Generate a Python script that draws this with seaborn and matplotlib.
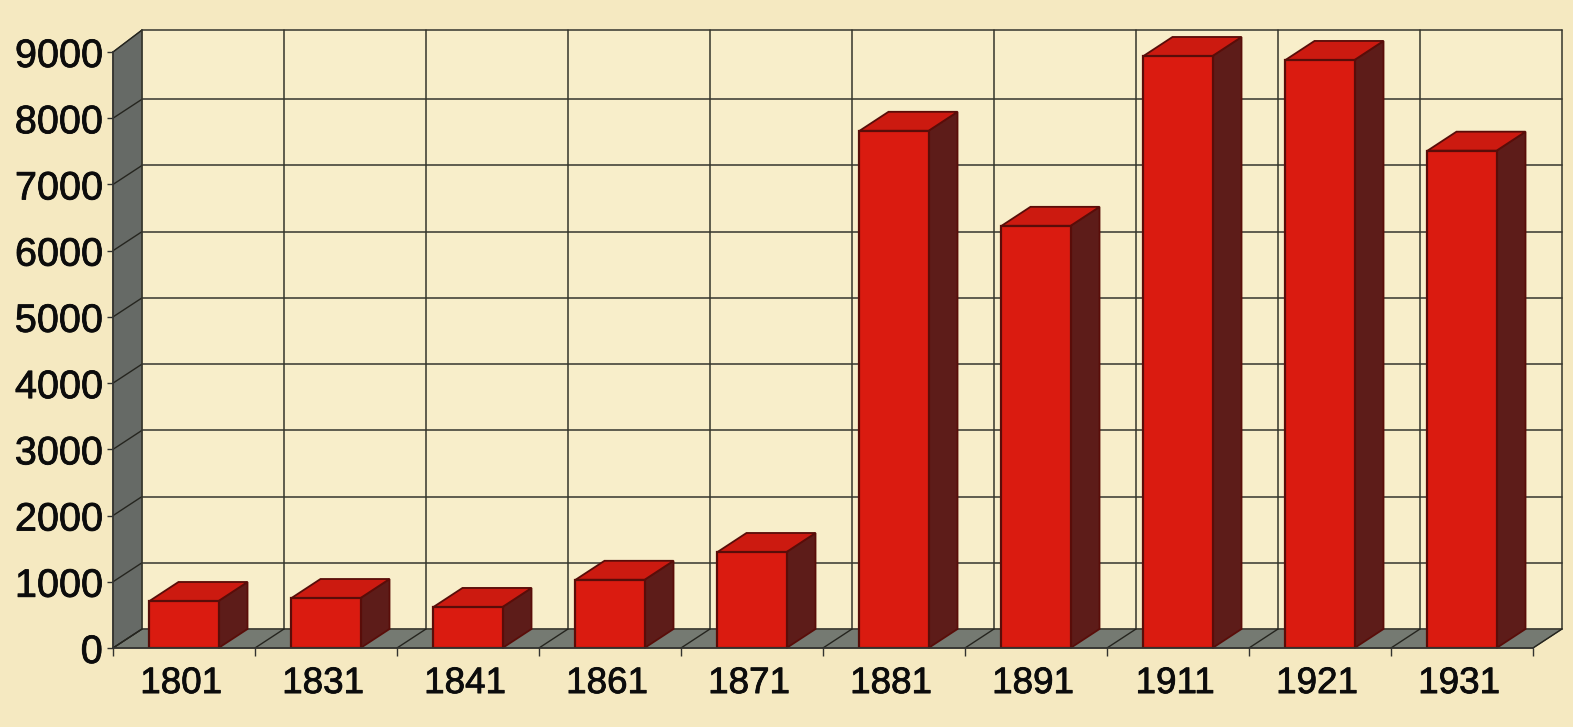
import matplotlib
matplotlib.use("Agg")
import matplotlib.pyplot as plt
import matplotlib.patheffects as pe
from matplotlib.patches import Polygon
from matplotlib.transforms import ScaledTranslation
import pandas as pd
import seaborn as sns

years = ["1801", "1831", "1841", "1861", "1871", "1881", "1891", "1911", "1921", "1931"]
values = [710, 755, 620, 1030, 1450, 7810, 6375, 8940, 8880, 7510]
y_ticks = [0, 1000, 2000, 3000, 4000, 5000, 6000, 7000, 8000, 9000]

PAPER = "#f5e9c1"
BACK = "#f8eeca"
GRID = "#45443a"
WALL = "#666a66"
FLOOR = "#757a72"
FRONT = "#da1b10"
SIDE = "#5d1c19"
TOP = "#cc1a10"
EDGE = "#590d09"

W, H = 1573, 727
# 3d offset of the back wall, in data units
DX = 29 / 142
DY = 19 / 596 * 9000
# the frame's top line sits a little above the regular grid spacing
TOP_Y = 9000 + DY + 45

sns.set_theme(style="white")
plt.rcParams["font.family"] = ["Liberation Sans", "DejaVu Sans"]

fig = plt.figure(figsize=(W / 100, H / 100), dpi=100, facecolor=PAPER)
ax = fig.add_axes([113 / W, (H - 648) / H, 1420 / W, 596 / H])
ax.set_facecolor("none")

df = pd.DataFrame({"year": years, "value": values})
sns.barplot(data=df, x="year", y="value", color=FRONT, saturation=1, width=0.486,
            edgecolor=EDGE, linewidth=1.6, zorder=5, ax=ax)

ax.set_xlim(-0.5, len(years) - 0.5)
ax.set_ylim(0, 9000)
x0, x1 = ax.get_xlim()

# walls
ax.add_patch(Polygon([(x0 + DX, DY), (x0 + DX, TOP_Y), (x1 + DX, TOP_Y), (x1 + DX, DY)], fc=BACK, ec="none",
                     clip_on=False, zorder=0.5))
ax.add_patch(Polygon([(x0, 0), (x0 + DX, DY), (x1 + DX, DY), (x1, 0)], fc=FLOOR, ec=GRID,
                     lw=0.8, clip_on=False, zorder=1))
ax.add_patch(Polygon([(x0, 0), (x0, 9000), (x0 + DX, TOP_Y), (x0 + DX, DY)], fc=WALL, ec=GRID,
                     lw=0.8, clip_on=False, zorder=1))

# gridlines on the back wall and their diagonals
for v in y_ticks:
    back_y = TOP_Y if v == 9000 else v + DY
    ax.plot([x0 + DX, x1 + DX], [back_y, back_y], color=GRID, lw=1.2, clip_on=False, zorder=2)
    ax.plot([x0, x0 + DX], [v, back_y], color="#25251f", lw=1.0, clip_on=False, zorder=2)
for i in range(len(years) + 1):
    xb = x0 + i
    ax.plot([xb + DX, xb + DX], [DY, TOP_Y], color="#35352c", lw=1.1, clip_on=False, zorder=2)
    ax.plot([xb, xb + DX], [0, DY], color="#25251f", lw=1.0, clip_on=False, zorder=2)

# sides and tops of the bars, taken from the bars seaborn drew
for bar in list(ax.patches):
    if not hasattr(bar, "get_width"):
        continue
    left, w, h = bar.get_x(), bar.get_width(), bar.get_height()
    right = left + w
    ax.add_patch(Polygon([(right, 0), (right + DX, DY), (right + DX, h + DY), (right, h)],
                         fc=SIDE, ec=EDGE, lw=1.3, clip_on=False, zorder=4))
    ax.add_patch(Polygon([(left, h), (left + DX, h + DY), (right + DX, h + DY), (right, h)],
                         fc=TOP, ec=EDGE, lw=1.3, clip_on=False, zorder=4))

ax.set_xlabel("")
ax.set_ylabel("")
ax.set_yticks(y_ticks)
ax.set_xticks(range(len(years)))
ax.set_xticklabels(years)
ax.set_xticks([x0 + i for i in range(len(years) + 1)], minor=True)
ax.tick_params(axis="y", length=4.5, width=1, color="#333330", pad=3, labelsize=28.5, labelcolor="#0c0c0c", left=True)
ax.tick_params(axis="x", which="major", length=0, pad=13, labelsize=26.5, labelcolor="#0c0c0c")
ax.tick_params(axis="x", which="minor", length=6, width=1, color="#333330", bottom=True)

# printed labels look heavier than the plain font; year labels sit slightly left of centre
shift = ScaledTranslation(-3 / 100, 0, fig.dpi_scale_trans)
for label in ax.get_xticklabels():
    label.set_transform(label.get_transform() + shift)
for label in ax.get_xticklabels() + ax.get_yticklabels():
    label.set_path_effects([pe.withStroke(linewidth=0.6, foreground="#0c0c0c")])

sns.despine(ax=ax, top=True, right=True, left=False, bottom=False)
ax.spines["left"].set_color("#333330")
ax.spines["bottom"].set_color("#333330")
ax.spines["left"].set_zorder(6)
ax.spines["bottom"].set_zorder(6)

fig.savefig("out.png", dpi=100, facecolor=PAPER)
